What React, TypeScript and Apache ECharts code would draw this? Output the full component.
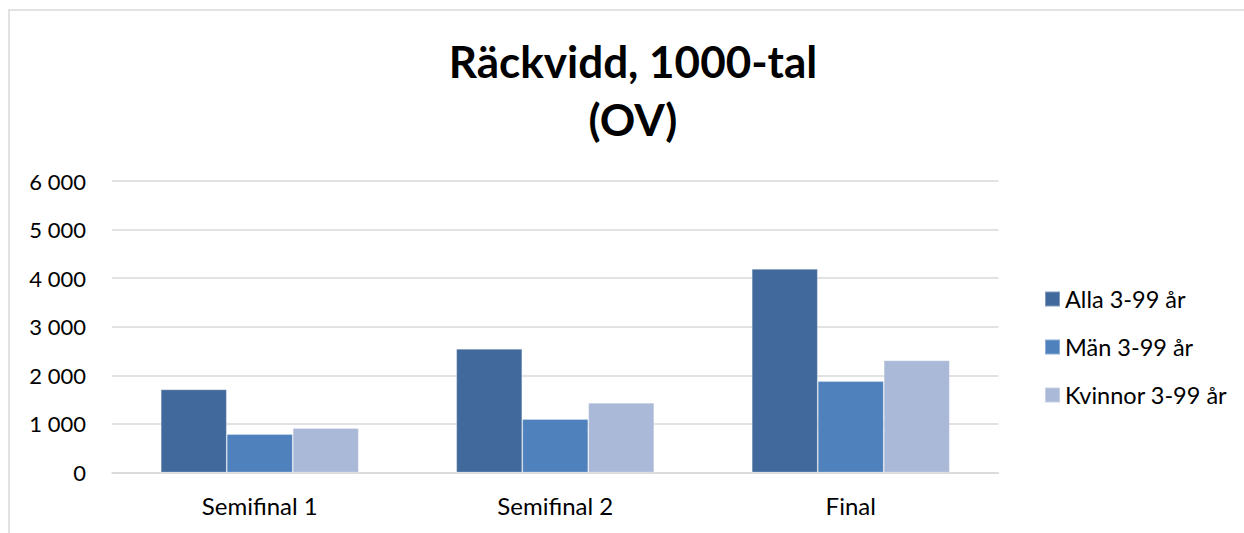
import React, { useEffect, useRef } from "react";
import * as echarts from "echarts";

const categories = ["Semifinal 1", "Semifinal 2", "Final"];
const seriesNames = ["Alla 3-99 år", "Män 3-99 år", "Kvinnor 3-99 år"];
const alla = [1710, 2545, 4190];
const man = [790, 1100, 1880];
const kvinnor = [915, 1435, 2310];
const colors = ["#41699b", "#4f81bd", "#aab9d7"];
const titleLines = ["Räckvidd, 1000-tal", "(OV)"];

const fmt = (v: number) => {
  const s = String(Math.round(v));
  return s.replace(/\B(?=(\d{3})+(?!\d))/g, " ");
};

export default function App() {
  const ref = useRef<HTMLDivElement>(null);
  useEffect(() => {
    if (!ref.current) return;
    const chart = echarts.init(ref.current, null, { renderer: "svg" });
    const data = [alla, man, kvinnor];
    chart.setOption({
      animation: false,
      backgroundColor: "#ffffff",
      textStyle: { fontFamily: "Lato" },
      graphic: [
        {
          type: "rect",
          shape: { x: 9, y: 10, width: 1400, height: 700 },
          style: { fill: "none", stroke: "#d9d9d9", lineWidth: 1.5 },
          silent: true,
          z: -1,
        },
      ],
      title: {
        text: titleLines.join("\n"),
        left: 628,
        top: 27,
        textAlign: "center",
        textStyle: {
          fontFamily: "Lato",
          fontWeight: "bold",
          fontSize: 44,
          lineHeight: 58,
          color: "#000000",
        },
      },
      legend: {
        orient: "vertical",
        left: 1039,
        top: 282,
        itemWidth: 15,
        itemHeight: 15,
        itemGap: 24,
        icon: "rect",
        textStyle: { fontFamily: "Lato", fontSize: 23.5, color: "#000000" },
        data: seriesNames,
      },
      grid: { left: 112, right: 245.5, top: 181, bottom: 60.5 },
      xAxis: {
        type: "category",
        data: categories,
        axisLine: { show: true, lineStyle: { color: "#d9d9d9", width: 1.5 } },
        axisTick: { show: false },
        axisLabel: { fontFamily: "Lato", fontSize: 24, color: "#000000", margin: 21 },
      },
      yAxis: {
        type: "value",
        min: 0,
        max: 6000,
        interval: 1000,
        axisLine: { show: false },
        axisTick: { show: false },
        splitLine: { lineStyle: { color: "#d9d9d9", width: 1.5 } },
        axisLabel: {
          fontFamily: "Lato",
          fontSize: 22,
          color: "#000000",
          margin: 26,
          formatter: (v: number) => fmt(v),
        },
      },
      series: seriesNames.map((name, i) => ({
        name,
        type: "bar",
        data: data[i],
        barGap: "0%",
        barCategoryGap: "33%",
        itemStyle: { color: colors[i], borderColor: "rgba(255,255,255,0.35)", borderWidth: 0.8 },
      })),
    });
    return () => chart.dispose();
  }, []);
  return (
    <div
      ref={ref}
      style={{ position: "fixed", left: 0, top: 0, width: 1244, height: 533 }}
    />
  );
}
